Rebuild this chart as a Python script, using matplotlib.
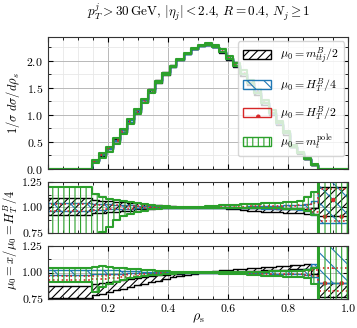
import numpy as np
import matplotlib
matplotlib.use("Agg")
import matplotlib.pyplot as plt
import matplotlib.patches as mpatches
from matplotlib.ticker import MultipleLocator

plt.rcParams.update({
    "font.family": "serif",
    "font.serif": ["cmr10"],
    "mathtext.fontset": "cm",
    "axes.formatter.use_mathtext": True,
    "hatch.linewidth": 0.8,
})

# bin edges in rho_s
edges = [0.0, 0.145, 0.169, 0.192, 0.216, 0.239, 0.263, 0.287, 0.310, 0.334, 0.357,
         0.381, 0.405, 0.428, 0.452, 0.476, 0.499, 0.523, 0.546, 0.570, 0.593,
         0.617, 0.641, 0.664, 0.688, 0.711, 0.735, 0.759, 0.782, 0.806, 0.829,
         0.853, 0.877, 0.900, 1.0]

# central distribution, mu0 = H_T^B/4
central = [0.003, 0.15, 0.26, 0.38, 0.53, 0.70, 0.88, 1.07, 1.26, 1.44, 1.61,
           1.76, 1.90, 2.02, 2.13, 2.22, 2.28, 2.30, 2.26, 2.17, 2.05,
           1.92, 1.77, 1.60, 1.42, 1.23, 1.04, 0.85, 0.67, 0.42, 0.30,
           0.19, 0.08, 0.003]

# middle panel ratio bands
mid_black_lo = [0.93, 0.95, 0.95, 0.96, 0.96, 0.97, 0.97, 0.98, 0.98, 0.985, 0.99,
                0.99, 0.995, 0.995, 0.997, 0.998, 0.998, 0.998, 0.995, 0.99, 0.985,
                0.98, 0.975, 0.97, 0.965, 0.96, 0.96, 0.955, 0.95, 0.95, 0.945,
                0.94, 0.94, 0.92]
mid_black_hi = [1.09, 1.07, 1.06, 1.06, 1.05, 1.05, 1.04, 1.04, 1.03, 1.025, 1.02,
                1.015, 1.01, 1.007, 1.005, 1.003, 1.002, 1.0, 1.0, 1.0, 1.0,
                0.998, 0.995, 0.995, 0.99, 0.99, 0.99, 0.985, 0.985, 0.98, 0.98,
                0.98, 0.99, 1.2]
mid_blue_lo = [0.97, 0.975, 0.975, 0.98, 0.98, 0.985, 0.985, 0.99, 0.99, 0.993, 0.995,
               0.996, 0.997, 0.998, 0.998, 0.999, 0.999, 0.999, 0.998, 0.997, 0.996,
               0.995, 0.993, 0.99, 0.99, 0.988, 0.985, 0.985, 0.98, 0.98, 0.975,
               0.97, 0.93, 0.85]
mid_blue_hi = [1.04, 1.035, 1.03, 1.03, 1.025, 1.02, 1.02, 1.015, 1.012, 1.01, 1.008,
               1.006, 1.004, 1.003, 1.002, 1.001, 1.001, 1.001, 1.002, 1.003, 1.004,
               1.005, 1.007, 1.01, 1.01, 1.012, 1.015, 1.015, 1.02, 1.02, 1.025,
               1.03, 1.06, 1.3]
mid_red_lo = [0.97, 0.975, 0.975, 0.98, 0.98, 0.985, 0.985, 0.99, 0.99, 0.992, 0.994,
              0.995, 0.996, 0.997, 0.998, 0.998, 0.999, 0.999, 0.998, 0.997, 0.996,
              0.995, 0.994, 0.992, 0.99, 0.99, 0.988, 0.986, 0.985, 0.985, 0.982,
              0.98, 0.96, 0.87]
mid_red_hi = [1.03, 1.025, 1.025, 1.02, 1.02, 1.018, 1.015, 1.012, 1.01, 1.008, 1.006,
              1.005, 1.004, 1.003, 1.002, 1.002, 1.001, 1.002, 1.003, 1.004, 1.005,
              1.006, 1.008, 1.01, 1.01, 1.012, 1.014, 1.015, 1.016, 1.018, 1.02,
              1.02, 1.04, 1.18]
mid_green_lo = [0.70, 0.70, 0.76, 0.81, 0.88, 0.92, 0.94, 0.955, 0.97, 0.98, 0.985,
                0.99, 0.995, 0.997, 0.998, 0.998, 0.999, 0.999, 0.998, 0.997, 0.996,
                0.995, 0.994, 0.993, 0.992, 0.99, 0.99, 0.99, 0.988, 0.985, 0.985,
                0.97, 0.93, 0.70]
mid_green_hi = [1.20, 1.13, 1.10, 1.08, 1.07, 1.06, 1.05, 1.04, 1.03, 1.02, 1.015,
                1.01, 1.005, 1.003, 1.003, 1.005, 1.008, 1.01, 1.015, 1.02, 1.02,
                1.025, 1.03, 1.03, 1.035, 1.04, 1.04, 1.045, 1.05, 1.05, 1.06,
                1.1, 1.15, 1.30]

# bottom panel ratio bands
bot_black_lo = [0.76, 0.79, 0.80, 0.82, 0.835, 0.85, 0.865, 0.88, 0.895, 0.91, 0.925,
                0.94, 0.955, 0.97, 0.98, 0.99, 0.995, 1.0, 1.0, 1.005, 1.005,
                1.01, 1.01, 1.015, 1.015, 1.02, 1.02, 1.025, 1.025, 1.03, 1.03,
                1.03, 0.99, 0.77]
bot_black_hi = [0.87, 0.89, 0.90, 0.91, 0.92, 0.93, 0.94, 0.95, 0.96, 0.97, 0.975,
                0.98, 0.985, 0.99, 0.995, 1.0, 1.005, 1.01, 1.015, 1.02, 1.025,
                1.03, 1.035, 1.04, 1.045, 1.05, 1.055, 1.06, 1.065, 1.07, 1.075,
                1.08, 1.05, 0.90]
bot_blue_lo = [0.98, 0.985, 0.985, 0.988, 0.99, 0.99, 0.992, 0.994, 0.995, 0.996, 0.997,
               0.998, 0.998, 0.999, 0.999, 0.999, 0.999, 0.999, 0.998, 0.998, 0.997,
               0.996, 0.995, 0.994, 0.993, 0.992, 0.99, 0.99, 0.988, 0.985, 0.985,
               0.98, 0.96, 0.90]
bot_blue_hi = [1.02, 1.025, 1.025, 1.022, 1.02, 1.018, 1.015, 1.012, 1.01, 1.008, 1.006,
               1.005, 1.004, 1.003, 1.002, 1.001, 1.001, 1.001, 1.002, 1.003, 1.004,
               1.005, 1.006, 1.008, 1.01, 1.01, 1.012, 1.014, 1.015, 1.018, 1.02,
               1.03, 1.08, 1.35]
bot_red_lo = [0.93, 0.935, 0.94, 0.945, 0.95, 0.955, 0.96, 0.965, 0.97, 0.975, 0.98,
              0.985, 0.99, 0.992, 0.995, 0.997, 0.998, 0.998, 0.997, 0.996, 0.995,
              0.994, 0.993, 0.992, 0.99, 0.99, 0.988, 0.986, 0.985, 0.985, 0.982,
              0.98, 0.97, 0.83]
bot_red_hi = [0.965, 0.97, 0.972, 0.975, 0.978, 0.98, 0.983, 0.986, 0.988, 0.99, 0.992,
              0.994, 0.996, 0.998, 1.0, 1.001, 1.002, 1.003, 1.004, 1.005, 1.006,
              1.007, 1.008, 1.009, 1.01, 1.01, 1.011, 1.012, 1.013, 1.014, 1.015,
              1.015, 1.02, 1.04]
bot_green_lo = [0.91, 0.82, 0.86, 0.89, 0.91, 0.93, 0.945, 0.955, 0.965, 0.975, 0.98,
                0.985, 0.99, 0.993, 0.995, 0.996, 0.996, 0.995, 0.993, 0.99, 0.988,
                0.985, 0.982, 0.98, 0.975, 0.97, 0.97, 0.965, 0.96, 0.96, 0.955,
                0.95, 0.89, 0.70]
bot_green_hi = [1.045, 1.05, 1.065, 1.05, 1.045, 1.04, 1.035, 1.03, 1.025, 1.02, 1.015,
                1.012, 1.01, 1.008, 1.006, 1.005, 1.005, 1.006, 1.007, 1.008, 1.008,
                1.009, 1.01, 1.01, 1.01, 1.01, 1.012, 1.012, 1.012, 1.015, 1.015,
                1.02, 1.04, 1.30]

labels = [r"$\mu_0 = m_{ttj}^B/2$", r"$\mu_0 = H_T^B/4$",
          r"$\mu_0 = H_T^B/2$", r"$\mu_0 = m_t^\mathrm{pole}$"]
colors = ["black", "#1f77b4", "#d62728", "#2ca02c"]
hatches = ["////", "\\\\", ".", "|||"]
styles = ["-", "-", ":", "-"]
widths = [1.0, 1.0, 1.2, 1.5]

mid = [(mid_black_lo, mid_black_hi), (mid_blue_lo, mid_blue_hi),
       (mid_red_lo, mid_red_hi), (mid_green_lo, mid_green_hi)]
bot = [(bot_black_lo, bot_black_hi), (bot_blue_lo, bot_blue_hi),
       (bot_red_lo, bot_red_hi), (bot_green_lo, bot_green_hi)]


def band(ax, lo, hi, i):
    lo = np.append(lo, lo[-1])
    hi = np.append(hi, hi[-1])
    ax.fill_between(edges, lo, hi, step="post", facecolor="none",
                    edgecolor=colors[i], hatch=hatches[i],
                    linestyle=styles[i], linewidth=widths[i])


fig = plt.figure(figsize=(3.57, 3.28), dpi=100)
ax1 = fig.add_axes([0.1345, 0.485, 0.8405, 0.402])
ax2 = fig.add_axes([0.1345, 0.290, 0.8405, 0.155])
ax3 = fig.add_axes([0.1345, 0.088, 0.8405, 0.162])

c = np.array(central)
for i in range(4):
    band(ax1, c * np.array(mid[i][0]), c * np.array(mid[i][1]), i)
    band(ax2, mid[i][0], mid[i][1], i)
    band(ax3, bot[i][0], bot[i][1], i)

ax1.set_ylim(0, 2.44)
ax1.yaxis.set_major_locator(MultipleLocator(0.5))
ax1.yaxis.set_minor_locator(MultipleLocator(0.25))
for ax in (ax2, ax3):
    ax.set_ylim(0.75, 1.25)
    ax.set_yticks([0.75, 1.0, 1.25])
    ax.set_yticklabels(["0.75", "1.00", "1.25"])
    ax.yaxis.set_minor_locator(MultipleLocator(0.125))

for ax in (ax1, ax2, ax3):
    ax.set_xlim(0, 1)
    ax.xaxis.set_major_locator(MultipleLocator(0.2))
    ax.xaxis.set_minor_locator(MultipleLocator(0.05))
    ax.grid(which="major", color="#b8b8b8", linewidth=0.7)
    ax.grid(which="minor", color="#e8e8e8", linewidth=0.6)
    ax.set_axisbelow(True)
    ax.tick_params(which="both", direction="in", top=True, right=True, labelsize=8.5)
    ax.tick_params(which="major", length=3.5)
    ax.tick_params(which="minor", length=2)
    for s in ax.spines.values():
        s.set_color("#333333")

ax1.tick_params(labelbottom=False)
ax2.tick_params(labelbottom=False)
ax3.set_xticks([0.2, 0.4, 0.6, 0.8, 1.0])
ax3.set_xticklabels(["0.2", "0.4", "0.6", "0.8", "1.0"])

handles = [mpatches.Patch(facecolor="none", edgecolor=colors[i], hatch=hatches[i],
                          linestyle="-", linewidth=1.0, label=labels[i])
           for i in range(4)]
ax1.legend(handles=handles, loc="upper right", fontsize=8.5, handlelength=2.4,
           handleheight=0.8, labelspacing=0.85, borderaxespad=0.35, framealpha=0.8,
           edgecolor="#cccccc")

fig.text(0.555, 0.962, r"$p_T^j > 30\,\mathrm{GeV}$, $|\eta_j| < 2.4$, $R = 0.4$, $N_j \geq 1$",
         ha="center", va="center", fontsize=9.5)
fig.text(0.037, 0.686, r"$1/\sigma\ d\sigma/d\rho_s$", rotation=90, ha="center",
         va="center", fontsize=9)
fig.text(0.03, 0.268, r"$\mu_0 = x/\mu_0 = H_T^B/4$", rotation=90, ha="center",
         va="center", fontsize=9)
fig.text(0.555, 0.03, r"$\rho_\mathrm{s}$", ha="center", va="center", fontsize=10)

fig.savefig("out.png", dpi=100)
